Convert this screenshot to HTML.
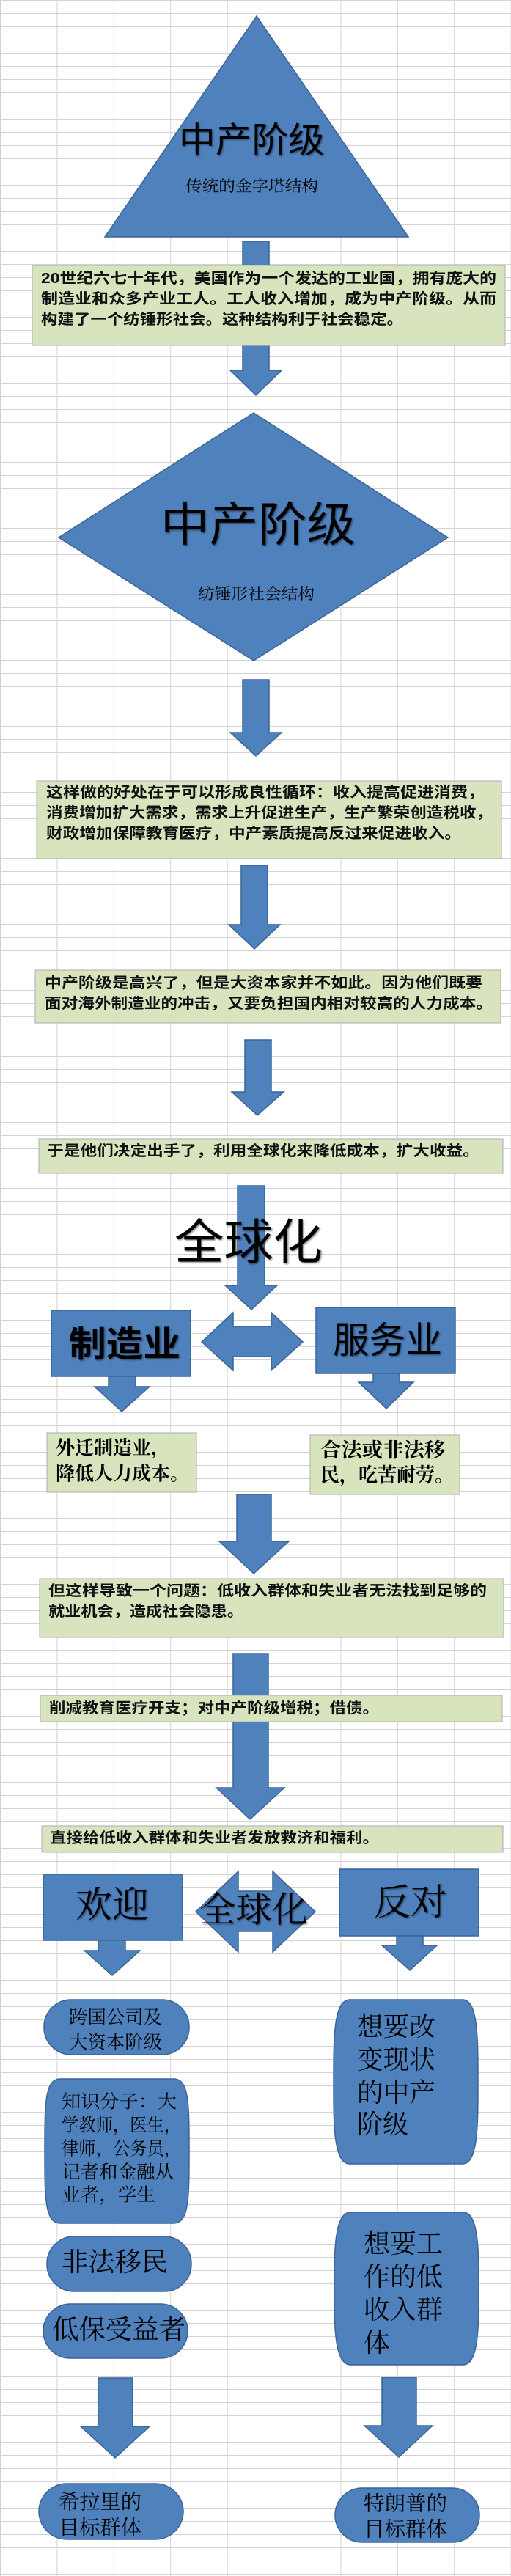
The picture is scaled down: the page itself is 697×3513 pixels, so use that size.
<!DOCTYPE html>
<html><head><meta charset="utf-8">
<style>
html,body{margin:0;padding:0;background:#fff;}
svg{display:block;}
.p{font-family:"Liberation Sans","Noto Sans CJK SC",sans-serif;font-weight:700;font-size:20px;fill:#111;}
.t{font-family:"Liberation Serif","Noto Serif CJK SC",serif;fill:#000;}
.h{font-family:"Liberation Sans","Noto Sans CJK SC",sans-serif;fill:#000;}
</style></head>
<body>
<svg width="697" height="3513" viewBox="0 0 697 3513" xmlns="http://www.w3.org/2000/svg">
<defs>
<pattern id="g" x="0" y="0" width="77.4" height="18" patternUnits="userSpaceOnUse">
<rect width="77.4" height="18" fill="#fff"/>
<path d="M0 0.5H77.4M0.5 0V18" stroke="#d2d2d2" stroke-width="1" fill="none"/>
</pattern>
<filter id="sh" x="-10%" y="-10%" width="130%" height="130%"><feDropShadow dx="1.5" dy="1.5" stdDeviation="1" flood-color="#000" flood-opacity="0.45"/></filter>
</defs>
<rect width="697" height="3513" fill="url(#g)"/>

<g fill="#4f81bd" stroke="#3b6497" stroke-width="1.5">
<!-- triangle -->
<polygon points="350,22 557,323 143,323"/>
<!-- arrow 1 -->
<polygon points="331,329 367,329 367,505 384,505 349,539 314,505 331,505"/>
<!-- diamond -->
<polygon points="346,563 611,733 346,901 80,733"/>
<!-- arrow 2 -->
<polygon points="331,927 367,927 367,999 384,999 349,1031 314,999 331,999"/>
<!-- arrow 3 -->
<polygon points="329,1180 365,1180 365,1261 382,1261 347,1294 312,1261 329,1261"/>
<!-- arrow 4 -->
<polygon points="334,1418 370,1418 370,1489 387,1489 351,1521 316,1489 334,1489"/>
<!-- arrow 5 -->
<polygon points="324,1617 361,1617 361,1753 378,1753 343,1786 307,1753 324,1753"/>
<!-- 制造业 box + arrow -->
<rect x="70" y="1787" width="190" height="90"/>
<polygon points="148,1877 185,1877 185,1891 204,1891 166,1925 129,1891 148,1891"/>
<!-- double arrow -->
<polygon points="275,1830 318,1790 318,1809 370,1809 370,1790 413,1830 370,1869 370,1850 318,1850 318,1869"/>
<!-- 服务业 box + arrow -->
<rect x="431" y="1783" width="190" height="90"/>
<polygon points="509,1873 545,1873 545,1885 564,1885 527,1921 489,1885 509,1885"/>
<!-- arrow 6 -->
<polygon points="323,2038 370,2038 370,2102 394,2102 346,2146 299,2102 323,2102"/>
<!-- arrow 7 -->
<polygon points="318,2255 366,2255 366,2438 388,2438 341,2481 295,2438 318,2438"/>
<!-- 欢迎 box + arrow -->
<rect x="59" y="2556" width="190" height="90"/>
<polygon points="134,2646 171,2646 171,2660 191,2660 153,2694 115,2660 134,2660"/>
<!-- double arrow 2 -->
<polygon points="267,2607 325,2552 325,2579 372,2579 372,2552 430,2607 372,2662 372,2634 325,2634 325,2662"/>
<!-- 反对 box + arrow -->
<rect x="463" y="2549" width="190" height="91"/>
<polygon points="541,2640 577,2640 577,2653 596,2653 559,2687 521,2653 541,2653"/>
<!-- pills -->
<rect x="60" y="2727" width="198" height="75" rx="37" ry="37"/>
<path d="M82,2835 H237 C258,2835 258,2870 258,2933 C258,2996 258,3032 237,3032 H82 C61,3032 61,2996 61,2933 C61,2870 61,2835 82,2835 Z"/>
<path d="M477,2727 H631 C652,2727 652,2780 652,2839 C652,2898 652,2951 631,2951 H477 C455,2951 455,2898 455,2839 C455,2780 455,2727 477,2727 Z"/>
<rect x="64" y="3050" width="197" height="75" rx="37" ry="37"/>
<rect x="59" y="3142" width="197" height="74" rx="37" ry="37"/>
<path d="M478,3017 H632 C653,3017 653,3070 653,3121 C653,3172 653,3225 632,3225 H478 C456,3225 456,3172 456,3121 C456,3070 456,3017 478,3017 Z"/>
<!-- bottom arrows -->
<polygon points="134,3243 181,3243 181,3309 204,3309 157,3352 110,3309 134,3309"/>
<polygon points="521,3242 568,3242 568,3308 590,3308 544,3351 497,3308 521,3308"/>
<rect x="53" y="3387" width="197" height="76" rx="38" ry="38"/>
<rect x="457" y="3393" width="197" height="74" rx="37" ry="37"/>
</g>

<!-- green text boxes -->
<g fill="#d7e4bd" stroke="#b8b8b8" stroke-width="1.2">
<rect x="44" y="362" width="645" height="109"/>
<rect x="50" y="1065" width="634" height="106"/>
<rect x="48" y="1323" width="635" height="72"/>
<rect x="53" y="1553" width="633" height="47"/>
<rect x="64" y="1954" width="204" height="81"/>
<rect x="423" y="1957" width="204" height="81"/>
<rect x="54" y="2153" width="633" height="80"/>
<rect x="55" y="2312" width="630" height="36"/>
<rect x="57" y="2490" width="629" height="36"/>
</g>

<g dominant-baseline="central">
<!-- shape titles -->
<g filter="url(#sh)">
<text class="h" x="244" y="192" font-size="48" textLength="199" lengthAdjust="spacingAndGlyphs">中产阶级</text>
<text class="h" x="219" y="716" font-size="64" textLength="266" lengthAdjust="spacingAndGlyphs">中产阶级</text>
<text class="h" x="238" y="1694" font-size="66" textLength="202" lengthAdjust="spacingAndGlyphs">全球化</text>
<text class="h" x="94" y="1834" font-size="48" font-weight="700" textLength="152" lengthAdjust="spacingAndGlyphs">制造业</text>
<text class="h" x="454" y="1828" font-size="50" textLength="149" lengthAdjust="spacingAndGlyphs">服务业</text>
<text class="t" x="103" y="2598" font-size="50" textLength="100" lengthAdjust="spacingAndGlyphs">欢迎</text>
<text class="t" x="272" y="2605" font-size="48" textLength="148" lengthAdjust="spacingAndGlyphs">全球化</text>
<text class="t" x="510" y="2594" font-size="50" textLength="100" lengthAdjust="spacingAndGlyphs">反对</text>
</g>
<text class="t" x="253" y="254" font-size="21" textLength="181" lengthAdjust="spacingAndGlyphs">传统的金字塔结构</text>
<text class="t" x="270" y="810" font-size="21" textLength="159" lengthAdjust="spacingAndGlyphs">纺锤形社会结构</text>

<!-- paragraphs -->
<text class="p" x="56" y="380" textLength="621" lengthAdjust="spacingAndGlyphs">20世纪六七十年代，美国作为一个发达的工业国，拥有庞大的</text>
<text class="p" x="56" y="408" textLength="621" lengthAdjust="spacingAndGlyphs">制造业和众多产业工人。工人收入增加，成为中产阶级。从而</text>
<text class="p" x="56" y="436" textLength="494" lengthAdjust="spacingAndGlyphs">构建了一个纺锤形社会。这种结构利于社会稳定。</text>

<text class="p" x="63" y="1081" textLength="598" lengthAdjust="spacingAndGlyphs">这样做的好处在于可以形成良性循环：收入提高促进消费，</text>
<text class="p" x="63" y="1109" textLength="609" lengthAdjust="spacingAndGlyphs">消费增加扩大需求，需求上升促进生产，生产繁荣创造税收，</text>
<text class="p" x="63" y="1137" textLength="566" lengthAdjust="spacingAndGlyphs">财政增加保障教育医疗，中产素质提高反过来促进收入。</text>

<text class="p" x="61" y="1341" textLength="597" lengthAdjust="spacingAndGlyphs">中产阶级是高兴了，但是大资本家并不如此。因为他们既要</text>
<text class="p" x="61" y="1369" textLength="611" lengthAdjust="spacingAndGlyphs">面对海外制造业的冲击，又要负担国内相对较高的人力成本。</text>

<text class="p" x="64" y="1570" textLength="590" lengthAdjust="spacingAndGlyphs">于是他们决定出手了，利用全球化来降低成本，扩大收益。</text>

<text class="t" x="76" y="1975" font-size="26" font-weight="700" textLength="156" lengthAdjust="spacingAndGlyphs">外迁制造业，</text>
<text class="t" x="76" y="2010" font-size="26" font-weight="700" textLength="182" lengthAdjust="spacingAndGlyphs">降低人力成本。</text>
<text class="t" x="437" y="1978" font-size="27" font-weight="700" textLength="170" lengthAdjust="spacingAndGlyphs">合法或非法移</text>
<text class="t" x="437" y="2012" font-size="27" font-weight="700" textLength="182" lengthAdjust="spacingAndGlyphs">民，吃苦耐劳。</text>

<text class="p" x="66" y="2170" textLength="598" lengthAdjust="spacingAndGlyphs">但这样导致一个问题：低收入群体和失业者无法找到足够的</text>
<text class="p" x="66" y="2198" textLength="266" lengthAdjust="spacingAndGlyphs">就业机会，造成社会隐患。</text>

<text class="p" x="67" y="2330" textLength="450" lengthAdjust="spacingAndGlyphs">削减教育医疗开支；对中产阶级增税；借债。</text>
<text class="p" x="68" y="2507" textLength="449" lengthAdjust="spacingAndGlyphs">直接给低收入群体和失业者发放救济和福利。</text>

<!-- pill texts -->
<text class="t" x="94" y="2752" font-size="25" textLength="127" lengthAdjust="spacingAndGlyphs">跨国公司及</text>
<text class="t" x="94" y="2786" font-size="25" textLength="127" lengthAdjust="spacingAndGlyphs">大资本阶级</text>

<text class="t" x="84" y="2867" font-size="25" textLength="157" lengthAdjust="spacingAndGlyphs">知识分子：大</text>
<text class="t" x="84" y="2899" font-size="25" textLength="163" lengthAdjust="spacingAndGlyphs">学教师，医生，</text>
<text class="t" x="84" y="2931" font-size="25" textLength="163" lengthAdjust="spacingAndGlyphs">律师，公务员，</text>
<text class="t" x="84" y="2963" font-size="25" textLength="153" lengthAdjust="spacingAndGlyphs">记者和金融从</text>
<text class="t" x="84" y="2994" font-size="25" textLength="128" lengthAdjust="spacingAndGlyphs">业者，学生</text>

<text class="t" x="487" y="2764" font-size="36" textLength="107" lengthAdjust="spacingAndGlyphs">想要改</text>
<text class="t" x="487" y="2809" font-size="36" textLength="107" lengthAdjust="spacingAndGlyphs">变现状</text>
<text class="t" x="487" y="2854" font-size="36" textLength="107" lengthAdjust="spacingAndGlyphs">的中产</text>
<text class="t" x="487" y="2897" font-size="36" textLength="70" lengthAdjust="spacingAndGlyphs">阶级</text>

<text class="t" x="84" y="3085" font-size="36" textLength="145" lengthAdjust="spacingAndGlyphs">非法移民</text>
<text class="t" x="71" y="3177" font-size="36" textLength="182" lengthAdjust="spacingAndGlyphs">低保受益者</text>

<text class="t" x="496" y="3060" font-size="36" textLength="108" lengthAdjust="spacingAndGlyphs">想要工</text>
<text class="t" x="496" y="3105" font-size="36" textLength="108" lengthAdjust="spacingAndGlyphs">作的低</text>
<text class="t" x="496" y="3150" font-size="36" textLength="108" lengthAdjust="spacingAndGlyphs">收入群</text>
<text class="t" x="496" y="3195" font-size="36">体</text>

<text class="t" x="80" y="3413" font-size="28" textLength="113" lengthAdjust="spacingAndGlyphs">希拉里的</text>
<text class="t" x="80" y="3448" font-size="28" textLength="113" lengthAdjust="spacingAndGlyphs">目标群体</text>
<text class="t" x="496" y="3415" font-size="28" textLength="114" lengthAdjust="spacingAndGlyphs">特朗普的</text>
<text class="t" x="496" y="3450" font-size="28" textLength="114" lengthAdjust="spacingAndGlyphs">目标群体</text>
</g>
</svg>
</body></html>
